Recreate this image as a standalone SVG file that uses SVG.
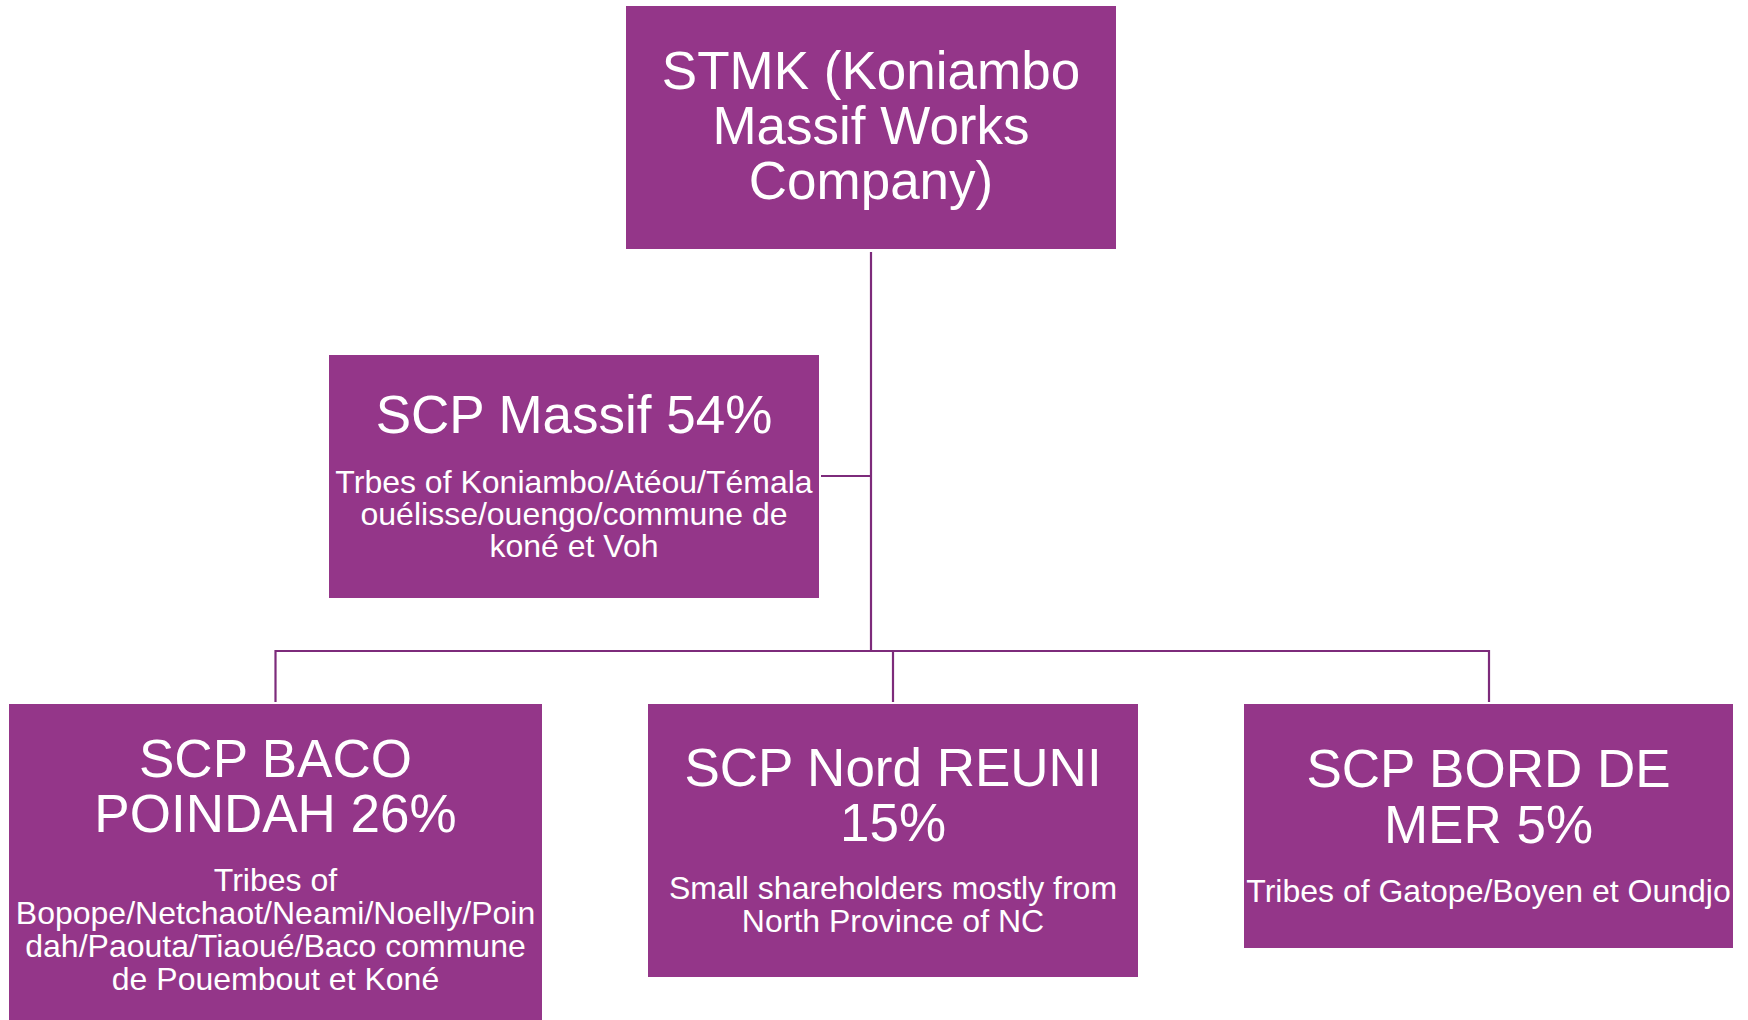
<svg xmlns="http://www.w3.org/2000/svg" width="1748" height="1020" viewBox="0 0 1748 1020">
<style>
.box{fill:#943689;}
.t{font-family:"Liberation Sans",Arial,sans-serif;fill:#ffffff;text-anchor:middle;}
.h{font-size:53px;}
.s{font-size:32px;}
.c{stroke:#7d2b7b;stroke-width:2.2;fill:none;}
</style>
<rect width="1748" height="1020" fill="#ffffff"/>
<g id="connectors">
<path class="c" d="M871 252 V651"/>
<path class="c" d="M821 476 H871"/>
<path class="c" d="M275.5 702 V651 H1489 V702"/>
<path class="c" d="M893 651 V702"/>
</g>
<g id="stmk">
<rect class="box" x="626" y="6" width="490" height="243"/>
<text class="t h" x="871" y="89">STMK (Koniambo</text>
<text class="t h" x="871" y="144">Massif Works</text>
<text class="t h" x="871" y="199">Company)</text>
</g>
<g id="massif">
<rect class="box" x="329" y="355" width="490" height="243"/>
<text class="t h" x="574" y="433">SCP Massif 54%</text>
<text class="t s" x="574" y="493">Trbes of Koniambo/Atéou/Témala</text>
<text class="t s" x="574" y="525">ouélisse/ouengo/commune de</text>
<text class="t s" x="574" y="557">koné et Voh</text>
</g>
<g id="baco">
<rect class="box" x="9" y="704" width="533" height="330"/>
<text class="t h" x="275.5" y="777">SCP BACO</text>
<text class="t h" x="275.5" y="832">POINDAH 26%</text>
<text class="t s" x="275.5" y="891">Tribes of</text>
<text class="t s" x="275.5" y="924">Bopope/Netchaot/Neami/Noelly/Poin</text>
<text class="t s" x="275.5" y="957">dah/Paouta/Tiaoué/Baco commune</text>
<text class="t s" x="275.5" y="990">de Pouembout et Koné</text>
</g>
<g id="nord">
<rect class="box" x="648" y="704" width="490" height="273"/>
<text class="t h" x="893" y="786">SCP Nord REUNI</text>
<text class="t h" x="893" y="841">15%</text>
<text class="t s" x="893" y="899">Small shareholders mostly from</text>
<text class="t s" x="893" y="932">North Province of NC</text>
</g>
<g id="bord">
<rect class="box" x="1244" y="704" width="489" height="244"/>
<text class="t h" x="1488.5" y="787">SCP BORD DE</text>
<text class="t h" x="1488.5" y="843">MER 5%</text>
<text class="t s" x="1488.5" y="902">Tribes of Gatope/Boyen et Oundjo</text>
</g>
</svg>
